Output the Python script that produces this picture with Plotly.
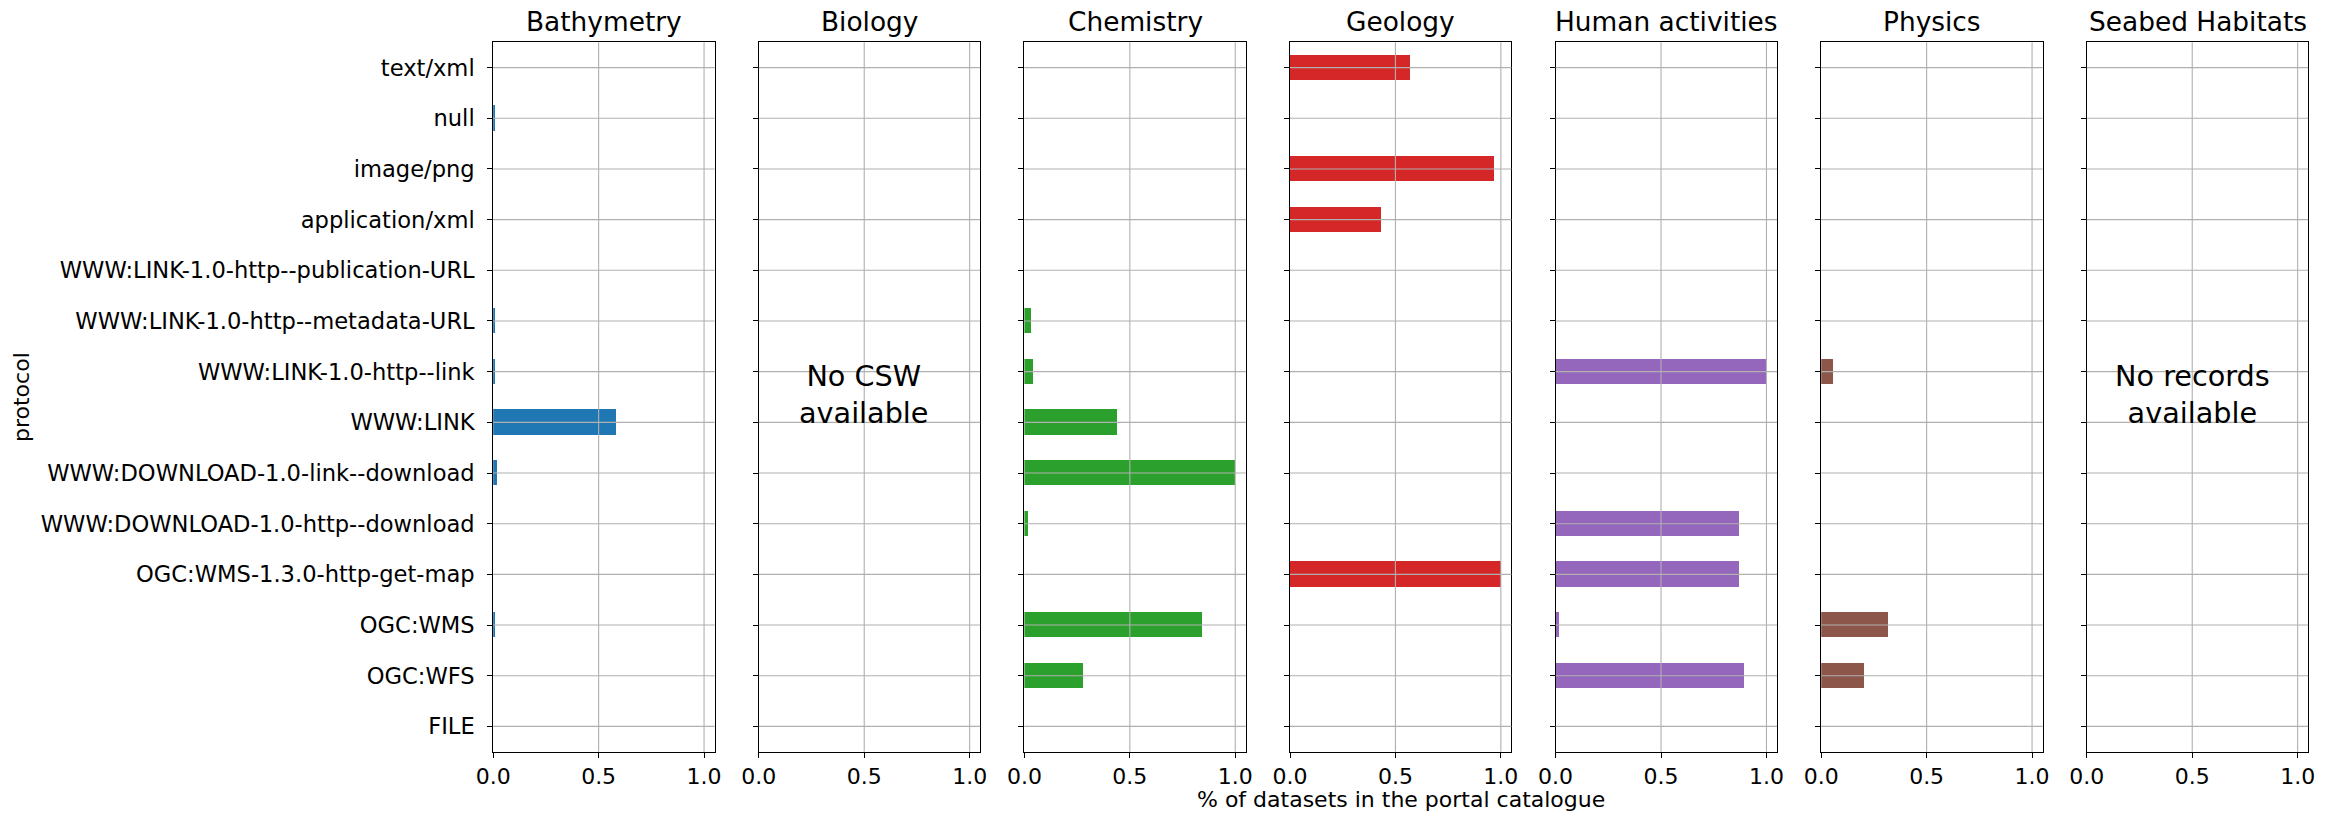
import plotly.graph_objects as go

W, H = 2336, 813

categories = [
    "text/xml", "null", "image/png", "application/xml",
    "WWW:LINK-1.0-http--publication-URL", "WWW:LINK-1.0-http--metadata-URL",
    "WWW:LINK-1.0-http--link", "WWW:LINK", "WWW:DOWNLOAD-1.0-link--download",
    "WWW:DOWNLOAD-1.0-http--download", "OGC:WMS-1.3.0-http-get-map",
    "OGC:WMS", "OGC:WFS", "FILE",
]

themes = ["Bathymetry", "Biology", "Chemistry", "Geology",
          "Human activities", "Physics", "Seabed Habitats"]

bathymetry = [0, 0.01, 0, 0, 0, 0.01, 0.01, 0.583, 0.017, 0, 0, 0.011, 0, 0]
biology = None
chemistry = [0, 0, 0, 0, 0, 0.034, 0.043, 0.443, 1.0, 0.019, 0, 0.843, 0.282, 0]
geology = [0.57, 0, 0.969, 0.43, 0, 0, 0, 0, 0, 0, 1.0, 0, 0, 0]
human_activities = [0, 0, 0, 0, 0, 0, 1.0, 0, 0, 0.866, 0.866, 0.012, 0.89, 0]
physics = [0, 0, 0, 0, 0, 0, 0.057, 0, 0, 0, 0, 0.318, 0.204, 0]
seabed_habitats = None

series = [bathymetry, biology, chemistry, geology, human_activities, physics, seabed_habitats]
colors = ["#1f77b4", "#ff7f0e", "#2ca02c", "#d62728", "#9467bd", "#8c564b", "#e377c2"]
empty_text = {1: "No CSW<br>available", 6: "No records<br>available"}

x_ticks = [0.0, 0.5, 1.0]
x_ticktext = ["0.0", "0.5", "1.0"]
x_title = "% of datasets in the portal catalogue"
y_title = "protocol"

FONT = "DejaVu Sans"
GRID = "#b0b0b0"

# layout geometry (pixels)
left0, pitch, pw = 493.2, 265.6, 221.4
top_px, bot_px = 42.3, 751.7


def px_x(p):
    return p / W


def px_y(p):
    return 1 - p / H


fig = go.Figure()
shapes = []
annotations = []
layout = {}

for k, name in enumerate(themes):
    ax = "" if k == 0 else str(k + 1)
    xa, ya = "x" + ax, "y" + ax
    vals = series[k]
    if vals is not None:
        fig.add_trace(go.Bar(
            x=vals, y=categories, orientation="h", width=0.5,
            marker=dict(color=colors[k], line=dict(width=0)),
            xaxis=xa, yaxis=ya, showlegend=False,
        ))
    else:
        fig.add_trace(go.Bar(
            x=[None] * len(categories), y=categories, orientation="h",
            xaxis=xa, yaxis=ya, showlegend=False, hoverinfo="skip",
        ))
    x0 = left0 + k * pitch
    layout["xaxis" + ax] = dict(
        domain=[px_x(x0), px_x(x0 + pw)], anchor=ya, range=[0, 1.05],
        tickvals=x_ticks, ticktext=x_ticktext, ticks="outside", ticklen=5,
        tickwidth=1, tickcolor="black", showgrid=False, zeroline=False,
        showline=True, linecolor="black", linewidth=1, mirror=True,
        tickfont=dict(family=FONT, size=22, color="black"),
        automargin=False, fixedrange=True,
    )
    layout["yaxis" + ax] = dict(
        domain=[px_y(bot_px), px_y(top_px)], anchor=xa, type="category",
        categoryarray=categories, range=[len(categories) - 0.5, -0.5],
        ticks="outside", ticklen=5, tickwidth=1, tickcolor="black",
        showgrid=False, zeroline=False, showline=True, linecolor="black",
        linewidth=1, mirror=True, showticklabels=(k == 0),
        tickfont=dict(family=FONT, size=22.6, color="black"),
        ticklabelstandoff=8, automargin=False, fixedrange=True,
    )
    # grid lines drawn above bars (as matplotlib does)
    for xv in x_ticks[1:]:
        shapes.append(dict(type="line", layer="above", xref=xa, x0=xv, x1=xv,
                           yref=ya + " domain", y0=0, y1=1,
                           line=dict(color=GRID, width=1.1)))
    for c in categories:
        shapes.append(dict(type="line", layer="above", xref=xa + " domain", x0=0, x1=1,
                           yref=ya, y0=c, y1=c,
                           line=dict(color=GRID, width=1.1)))
    annotations.append(dict(
        text=name, xref=xa + " domain", x=0.5, yref="paper", y=px_y(38.5),
        xanchor="center", yanchor="bottom", showarrow=False,
        font=dict(family=FONT, size=26.4, color="black"),
    ))
    if k in empty_text:
        annotations.append(dict(
            text=empty_text[k], xref=xa, x=0.5, yref="paper", y=px_y(394),
            xanchor="center", yanchor="middle", showarrow=False,
            font=dict(family=FONT, size=28.7, color="black"),
        ))

annotations.append(dict(
    text=x_title, xref="paper", x=px_x((left0 + left0 + 6 * pitch + pw) / 2),
    yref="paper", y=px_y(799), xanchor="center", yanchor="middle",
    showarrow=False, font=dict(family=FONT, size=22, color="black"),
))
annotations.append(dict(
    text=y_title, xref="paper", x=px_x(21), yref="paper",
    y=px_y((top_px + bot_px) / 2), xanchor="center", yanchor="middle",
    textangle=-90, showarrow=False, font=dict(family=FONT, size=22, color="black"),
))

fig.update_layout(
    template="none",
    width=W, height=H, autosize=False, margin=dict(l=0, r=0, t=0, b=0, pad=0),
    paper_bgcolor="white", plot_bgcolor="white", bargap=0,
    shapes=shapes, annotations=annotations, showlegend=False,
    font=dict(family=FONT, color="black"),
    **layout,
)

fig.write_html(
    "out.html",
    config={"displayModeBar": False, "responsive": False},
    post_script="document.body.style.margin='0';document.body.style.overflow='hidden';",
)
